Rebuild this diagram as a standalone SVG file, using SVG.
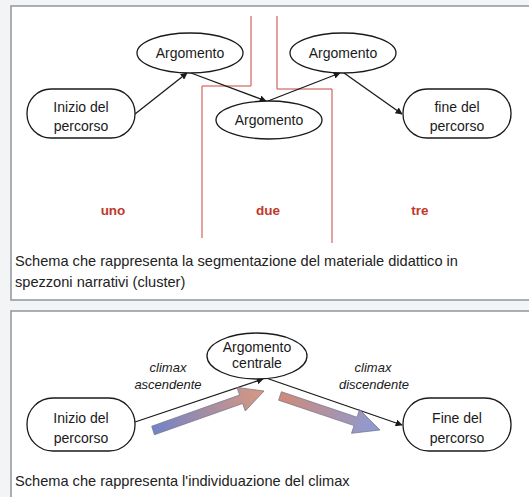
<svg xmlns="http://www.w3.org/2000/svg" width="529" height="497" viewBox="0 0 529 497">
<defs>
<style>
.panel{fill:#ffffff;stroke:#8f969c;stroke-width:1.5}
.node{fill:#ffffff;stroke:#1a1a1a;stroke-width:1.3}
.lbl{font-family:"Liberation Sans",Arial,sans-serif;font-size:14px;fill:#1a1a1a;text-anchor:middle}
.lbs{font-family:"Liberation Sans",Arial,sans-serif;font-size:13px;fill:#1a1a1a;text-anchor:middle}
.cap{font-family:"Liberation Sans",Arial,sans-serif;font-size:14.6px;fill:#222222}
.sec{font-family:"Liberation Sans",Arial,sans-serif;font-size:13.5px;font-weight:bold;fill:#c0392b;text-anchor:middle}
.clx{font-family:"Liberation Sans",Arial,sans-serif;font-size:13px;font-style:italic;fill:#1a1a1a;text-anchor:middle}
.edge{fill:none;stroke:#1a1a1a;stroke-width:1.3;marker-end:url(#ah)}
.red{fill:none;stroke:#c8463c;stroke-width:1}
.fat{stroke:#6d6f86;stroke-width:0.7}
</style>
<marker id="ah" viewBox="0 0 10 10" refX="9" refY="5" markerWidth="7" markerHeight="7" markerUnits="userSpaceOnUse" orient="auto">
<path d="M0,0 L10,5 L0,10 z" fill="#1a1a1a"/>
</marker>
<linearGradient id="gUp" gradientUnits="userSpaceOnUse" x1="153" y1="430" x2="264" y2="391">
<stop offset="0" stop-color="#7383c6"/>
<stop offset="1" stop-color="#d9987f"/>
</linearGradient>
<linearGradient id="gDown" gradientUnits="userSpaceOnUse" x1="280" y1="396" x2="380" y2="430">
<stop offset="0" stop-color="#d08a78"/>
<stop offset="1" stop-color="#8a9bd6"/>
</linearGradient>
</defs>
<rect x="0" y="0" width="529" height="497" fill="#f3f4f6"/>
<rect class="panel" x="11" y="6" width="530" height="294"/>
<rect class="panel" x="11" y="311" width="530" height="200"/>

<g id="separators">
<path class="red" d="M251,16 V86 H202 V238"/>
<path class="red" d="M277,16 V89 H332 V243"/>
</g>

<g id="connectors">
<line class="edge" x1="135" y1="114" x2="187" y2="73"/>
<line class="edge" x1="191" y1="73" x2="266" y2="101"/>
<line class="edge" x1="268" y1="101" x2="340" y2="73"/>
<line class="edge" x1="344" y1="73" x2="402" y2="114"/>
<line class="edge" x1="135" y1="422" x2="263" y2="379"/>
<line class="edge" x1="266" y1="378" x2="402" y2="425"/>
</g>

<g id="node-inizio-1">
<rect class="node" x="27" y="89" width="108" height="49" rx="24"/>
<text class="lbl" x="81" y="112">Inizio del</text>
<text class="lbl" x="81" y="131">percorso</text>
</g>
<g id="node-argomento-1">
<ellipse class="node" cx="190" cy="53" rx="53" ry="20"/>
<text class="lbl" x="190" y="58">Argomento</text>
</g>
<g id="node-argomento-2">
<ellipse class="node" cx="269" cy="120" rx="53" ry="19"/>
<text class="lbl" x="269" y="125">Argomento</text>
</g>
<g id="node-argomento-3">
<ellipse class="node" cx="343" cy="53" rx="53" ry="20"/>
<text class="lbl" x="343" y="58">Argomento</text>
</g>
<g id="node-fine-1">
<rect class="node" x="403" y="89" width="108" height="49" rx="24"/>
<text class="lbl" x="457" y="112">fine del</text>
<text class="lbl" x="457" y="131">percorso</text>
</g>

<g id="section-labels">
<text class="sec" x="113" y="215">uno</text>
<text class="sec" x="268" y="215">due</text>
<text class="sec" x="420" y="215">tre</text>
</g>

<text class="cap" x="15" y="266">Schema che rappresenta la segmentazione del materiale didattico in</text>
<text class="cap" x="15" y="287">spezzoni narrativi (cluster)</text>

<g id="node-inizio-2">
<rect class="node" x="27" y="398" width="108" height="53" rx="26"/>
<text class="lbl" x="81" y="423">Inizio del</text>
<text class="lbl" x="81" y="443">percorso</text>
</g>
<g id="node-centrale">
<ellipse class="node" cx="257" cy="356" rx="50" ry="23"/>
<text class="lbl" x="257" y="352">Argomento</text>
<text class="lbl" x="257" y="368">centrale</text>
</g>
<g id="node-fine-2">
<rect class="node" x="403" y="398" width="108" height="53" rx="26"/>
<text class="lbl" x="457" y="423">Fine del</text>
<text class="lbl" x="457" y="443">percorso</text>
</g>

<g id="climax-arrows">
<polygon class="fat" fill="url(#gUp)" points="151.7,426.2 239.6,395.0 236.9,387.4 264,391 245.3,411.0 242.6,403.5 154.4,434.8"/>
<polygon class="fat" fill="url(#gDown)" points="281.4,391.7 357.0,417.2 359.6,409.6 380,430 351.5,433.3 354.1,425.6 278.6,400.2"/>
</g>

<g id="climax-labels">
<text class="clx" x="168" y="372">climax</text>
<text class="clx" x="168" y="389">ascendente</text>
<text class="clx" x="373" y="372">climax</text>
<text class="clx" x="374" y="389">discendente</text>
</g>

<text class="cap" x="15" y="486">Schema che rappresenta l'individuazione del climax</text>
</svg>
